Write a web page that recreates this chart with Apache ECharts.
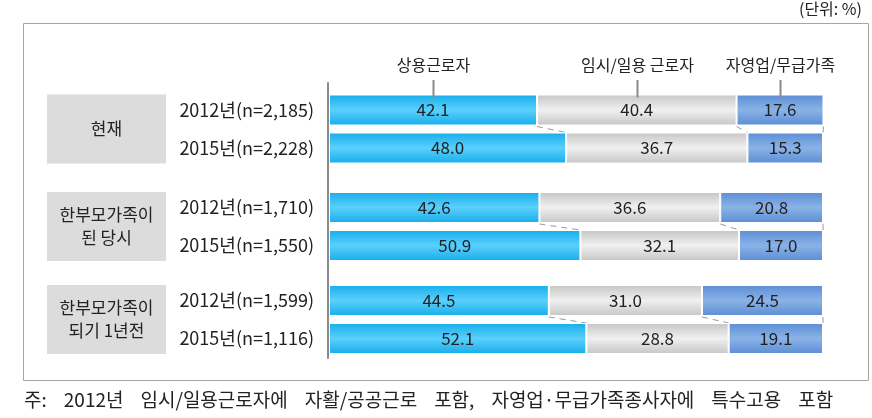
<!DOCTYPE html>
<html>
<head>
<meta charset="utf-8">
<script src="https://cdn.jsdelivr.net/npm/echarts@6/dist/echarts.min.js"></script>
<style>
html,body{margin:0;padding:0;background:#fff;}
#chart{width:872px;height:418px;}
</style>
</head>
<body>
<div id="chart"></div>
<script>
// ---- data ----
const categories = ['2012년(n=2,185)', '2015년(n=2,228)', '2012년(n=1,710)', '2015년(n=1,550)', '2012년(n=1,599)', '2015년(n=1,116)'];
const groups = ['현재', '한부모가족이\n된 당시', '한부모가족이\n되기 1년전'];
const seriesNames = ['상용근로자', '임시/일용 근로자', '자영업/무급가족'];
const regular = [42.1, 48.0, 42.6, 50.9, 44.5, 52.1];
const temporary = [40.4, 36.7, 36.6, 32.1, 31.0, 28.8];
const selfEmployed = [17.6, 15.3, 20.8, 17.0, 24.5, 19.1];
const unitText = '(단위: %)';
const noteWords = ['주:', '2012년', '임시/일용근로자에', '자활/공공근로', '포함,', '자영업·무급가족종사자에', '특수고용', '포함'];

// ---- styles ----
const FONT = '"Noto Sans CJK KR", "Noto Sans", sans-serif';
function grad(edge, mid) {
  return new echarts.graphic.LinearGradient(0, 0, 0, 1, [
    {offset: 0, color: edge}, {offset: 0.5, color: mid}, {offset: 1, color: edge}
  ]);
}
const colors = [grad('#17ade9', '#5ad0fd'), grad('#c6c6c6', '#f0f0f0'), grad('#5b8ed6', '#8ab2e6')];
const valuesBySeries = [regular, temporary, selfEmployed];

const gridTops = [91, 188.5, 281.5];
const GRID_LEFT = 329, GRID_W = 494, GRID_H = 76, BAR_W = 31;

const grids = [], xAxes = [], yAxes = [], series = [];
gridTops.forEach((top, g) => {
  grids.push({left: GRID_LEFT, top: top, width: GRID_W, height: GRID_H});
  xAxes.push({type: 'value', gridIndex: g, min: 0, max: 100, show: false});
  yAxes.push({
    type: 'category', gridIndex: g, inverse: true,
    data: categories.slice(g * 2, g * 2 + 2),
    axisLine: {show: false}, axisTick: {show: false},
    axisLabel: {margin: 15, fontSize: 18, color: '#222', fontFamily: FONT}
  });
  valuesBySeries.forEach((vals, s) => {
    series.push({
      type: 'bar', name: seriesNames[s], xAxisIndex: g, yAxisIndex: g,
      stack: 'g' + g, barWidth: BAR_W,
      data: vals.slice(g * 2, g * 2 + 2),
      itemStyle: {color: colors[s], borderColor: '#fff', borderWidth: 1},
      label: {show: true, position: 'inside', fontSize: 17, color: '#222', fontFamily: FONT,
        formatter: p => Number(p.value).toFixed(1)},
      emphasis: {disabled: true}, animation: false
    });
  });
});
// axis line grid
grids.push({left: GRID_LEFT - 1, top: 83, width: GRID_W, height: 275});
xAxes.push({type: 'value', gridIndex: 3, show: false, min: 0, max: 100});
yAxes.push({type: 'category', gridIndex: 3, data: [''], axisTick: {show: false}, axisLabel: {show: false},
  axisLine: {show: true, lineStyle: {color: '#8a8a8a', width: 2}}});

const chart = echarts.init(document.getElementById('chart'), null, {renderer: 'canvas'});
chart.setOption({
  backgroundColor: '#fff',
  animation: false,
  grid: grids, xAxis: xAxes, yAxis: yAxes, series: series
});

// ---- decorations computed from scales ----
const graphics = [];
graphics.push({type: 'rect', shape: {x: 23.5, y: 23.5, width: 845, height: 357},
  style: {fill: 'none', stroke: '#a6a6a6', lineWidth: 1}, silent: true, z: -1});
graphics.push({type: 'text', right: 10, top: 1,
  style: {text: unitText, font: '16px ' + FONT, fill: '#222'}});
graphics.push({type: 'text', left: 24, top: 390,
  style: {text: noteWords.join('    '), font: '19px ' + FONT, fill: '#222'}});

const half = BAR_W / 2;
gridTops.forEach((top, g) => {
  const r0 = g * 2, r1 = g * 2 + 1;
  const c0 = chart.convertToPixel({gridIndex: g}, [0, 0]);
  const c1 = chart.convertToPixel({gridIndex: g}, [0, 1]);
  // group label box
  graphics.push({type: 'rect', shape: {x: 47, y: c0[1] - half, width: 119, height: (c1[1] + half) - (c0[1] - half)},
    style: {fill: '#dcdcdc'}, silent: true});
  graphics.push({type: 'text', x: 106.5, y: (c0[1] + c1[1]) / 2,
    style: {text: groups[g], font: '17px ' + FONT, fill: '#222', align: 'center', verticalAlign: 'middle', lineHeight: 23}});
  // connector lines
  let cumA = 0, cumB = 0;
  for (let s = 0; s < 3; s++) {
    cumA += valuesBySeries[s][r0];
    cumB += valuesBySeries[s][r1];
    const pA = chart.convertToPixel({gridIndex: g}, [cumA, 0]);
    const pB = chart.convertToPixel({gridIndex: g}, [cumB, 1]);
    graphics.push({type: 'line', shape: {x1: pA[0], y1: pA[1] + half + 1, x2: pB[0], y2: pB[1] - half},
      style: {stroke: '#9a9a9a', lineWidth: 1, lineDash: s === 2 ? null : [6, 5]}, silent: true});
  }
});
// legend labels with leader lines on the first bar
let cum = 0;
for (let s = 0; s < 3; s++) {
  const mid = cum + valuesBySeries[s][0] / 2;
  cum += valuesBySeries[s][0];
  const p = chart.convertToPixel({gridIndex: 0}, [mid, 0]);
  const x = Math.round(p[0]) + 0.5;
  graphics.push({type: 'line', shape: {x1: x, y1: 80, x2: x, y2: p[1] - half + 3},
    style: {stroke: '#8a8a8a', lineWidth: 2}, silent: true, z: 10});
  graphics.push({type: 'text', x: x, y: 65,
    style: {text: seriesNames[s], font: '16px ' + FONT, fill: '#222', align: 'center', verticalAlign: 'middle'}});
}
chart.setOption({graphic: graphics});
</script>
</body>
</html>
